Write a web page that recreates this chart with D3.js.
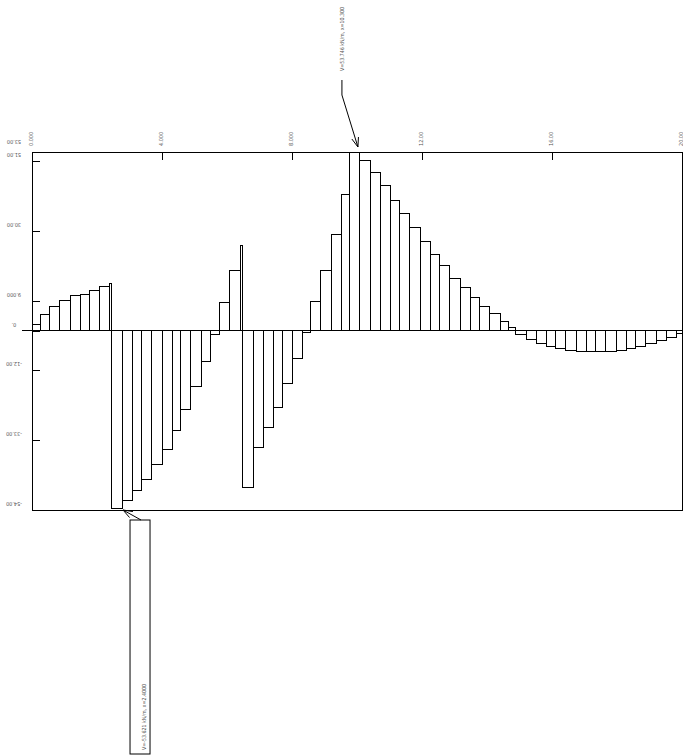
<!DOCTYPE html>
<html>
<head>
<meta charset="utf-8">
<script src="https://cdn.jsdelivr.net/npm/d3@7"></script>
<style>
  body { margin: 0; background: #fff; }
  text { font-family: "DejaVu Sans", sans-serif; font-stretch: condensed; font-size: 5.5px; fill: #555; }
</style>
</head>
<body>
<script>
// stations (m) where the shear changes, and shear value (kN/m) on each segment
const stations = [0, 0.25, 0.55, 0.86, 1.17, 1.48, 1.78, 2.09, 2.37, 2.46, 2.77, 3.08, 3.38, 3.69, 4.0, 4.31, 4.58,
  4.89, 5.2, 5.48, 5.78, 6.09, 6.4, 6.49, 6.8, 7.11, 7.42, 7.72, 8.0, 8.31, 8.58, 8.89, 9.2, 9.51, 9.78, 10.09,
  10.4, 10.71, 11.02, 11.32, 11.63, 11.94, 12.25, 12.55, 12.86, 13.17, 13.48, 13.78, 14.09, 14.4, 14.65, 14.89,
  15.2, 15.51, 15.82, 16.12, 16.43, 16.74, 17.05, 17.35, 17.66, 17.97, 18.28, 18.58, 18.89, 19.2, 19.51, 19.82, 20]
const shear = [1.8, 4.8, 7.2, 9.0, 10.5, 10.8, 12.0, 13.2, 14.1, -53.621, -51.0, -48.0, -44.7, -40.4, -35.9, -30.2,
  -23.9, -16.9, -9.4, -1.3, 8.4, 18.0, 25.5, -47.1, -35.3, -29.3, -23.3, -16.0, -8.5, -0.6, 8.7, 18.0, 28.9, 40.9,
  53.746, 51.2, 47.6, 43.6, 39.1, 35.2, 31.0, 26.8, 22.8, 19.5, 15.6, 12.9, 9.9, 7.2, 5.1, 2.7, 0.9, -1.3, -2.7,
  -3.9, -4.8, -5.5, -6.1, -6.4, -6.4, -6.4, -6.3, -6.0, -5.5, -4.8, -4.0, -3.1, -2.0, -0.9]

const xTicks = [0, 4, 8, 12, 16, 20]
const xTickLabels = ['0.000', '4.000', '8.000', '12.00', '16.00', '20.00']
const yTicks = [53.75, 51, 30, 9, 0, -12, -33, -54]
const yTickLabels = ['53.00', '51.00', '30.00', '9.000', '0.', '-12.00', '-33.00', '-54.00']

const maxText = 'V=53.746 kN/m, x=10.300'
const minText = 'V=-53.621 kN/m, x=2.4000'

let width = 683, height = 756
let svg = d3.select('body').append('svg')
  .attr('width', width)
  .attr('height', height)

let x = d3.scaleLinear().domain([0, 20]).range([32, 682])
let y = d3.scaleLinear().domain([-54, 53.75]).range([510, 152])

//cadre
svg.append('rect')
  .attr('x', x(0)).attr('y', y(53.75))
  .attr('width', x(20) - x(0)).attr('height', y(-54) - y(53.75))
  .attr('fill', 'none').attr('stroke', '#000')
  .attr('shape-rendering', 'crispEdges')

// barres
shear.forEach((v, i) => {
  svg.append('rect')
    .attr('x', x(stations[i]))
    .attr('y', y(Math.max(v, 0)))
    .attr('width', x(stations[i + 1]) - x(stations[i]))
    .attr('height', Math.abs(y(v) - y(0)))
    .attr('fill', '#fff')
    .attr('stroke', '#000')
    .attr('shape-rendering', 'crispEdges')
})

// ligne zero
svg.append('line')
  .attr('x1', x(0) - 10).attr('x2', x(20))
  .attr('y1', y(0)).attr('y2', y(0))
  .attr('stroke', '#000')
  .attr('shape-rendering', 'crispEdges')

// axe y
let yAxis = svg.append('g')
  .attr('transform', 'translate(' + x(0) + ',0)')
  .call(d3.axisLeft(y).tickValues(yTicks).tickSize(-8).tickFormat((d, i) => yTickLabels[i]))
yAxis.select('.domain').remove()
yAxis.attr('font-family', null).attr('font-size', null)
yAxis.selectAll('.tick line').attr('stroke', '#000').attr('shape-rendering', 'crispEdges')
yAxis.selectAll('.tick text')
  .attr('x', 0).attr('dy', null)
  .attr('fill', '#555')
  .attr('text-anchor', 'middle')
  .attr('dominant-baseline', 'middle')
  .attr('transform', (d, i) => 'translate(-18,' + (i == 0 ? -11 : -7) + ') rotate(180)')

// axe x (en haut)
let xAxis = svg.append('g')
  .attr('transform', 'translate(0,' + y(53.75) + ')')
  .call(d3.axisTop(x).tickValues(xTicks).tickSize(-8).tickFormat((d, i) => xTickLabels[i]))
xAxis.select('.domain').remove()
xAxis.attr('font-family', null).attr('font-size', null)
xAxis.selectAll('.tick line').attr('stroke', '#000').attr('shape-rendering', 'crispEdges')
xAxis.selectAll('.tick text')
  .attr('y', 0).attr('dy', null)
  .attr('fill', '#555')
  .attr('text-anchor', 'start')
  .attr('dominant-baseline', 'middle')
  .attr('transform', 'translate(-1,-6) rotate(-90)')

function arrowHead(tx, ty, fx, fy) {
  let a = Math.atan2(ty - fy, tx - fx)
  let len = 10, spread = 0.35
  let p = [a - spread, a + spread].map(b => [tx - len * Math.cos(b), ty - len * Math.sin(b)])
  svg.append('path')
    .attr('d', 'M' + p[0] + 'L' + tx + ',' + ty + 'L' + p[1])
    .attr('fill', 'none').attr('stroke', '#000')
}

// annotation max
let iMax = shear.indexOf(d3.max(shear))
let tipX = x(stations[iMax + 1]) - 2, tipY = y(shear[iMax]) - 5
let elbow = [tipX - 16, tipY - 52]
svg.append('path')
  .attr('d', 'M' + elbow[0] + ',' + (tipY - 67) + 'L' + elbow + 'L' + tipX + ',' + tipY)
  .attr('fill', 'none').attr('stroke', '#000')
arrowHead(tipX, tipY, elbow[0], elbow[1])
svg.append('text')
  .attr('transform', 'translate(' + (elbow[0] + 1) + ',' + (tipY - 76) + ') rotate(-90)')
  .attr('dominant-baseline', 'middle')
  .attr('textLength', 64)
  .attr('lengthAdjust', 'spacingAndGlyphs')
  .text(maxText)

// annotation min
let iMin = shear.indexOf(d3.min(shear))
let mX = x(stations[iMin + 1]), mY = y(-54)
let box = { x: mX + 8, y: mY + 10, w: 20, h: height - mY - 12 }
svg.append('line')
  .attr('x1', box.x + 11).attr('y1', box.y)
  .attr('x2', mX + 1).attr('y2', mY)
  .attr('stroke', '#000')
arrowHead(mX + 1, mY, box.x + 11, box.y)
svg.append('rect')
  .attr('x', box.x).attr('y', box.y)
  .attr('width', box.w).attr('height', box.h)
  .attr('fill', 'none').attr('stroke', '#000')
svg.append('text')
  .attr('transform', 'translate(' + (box.x + 14) + ',' + (height - 6) + ') rotate(-90)')
  .attr('dominant-baseline', 'middle')
  .attr('textLength', 66)
  .attr('lengthAdjust', 'spacingAndGlyphs')
  .text(minText)
</script>
</body>
</html>
